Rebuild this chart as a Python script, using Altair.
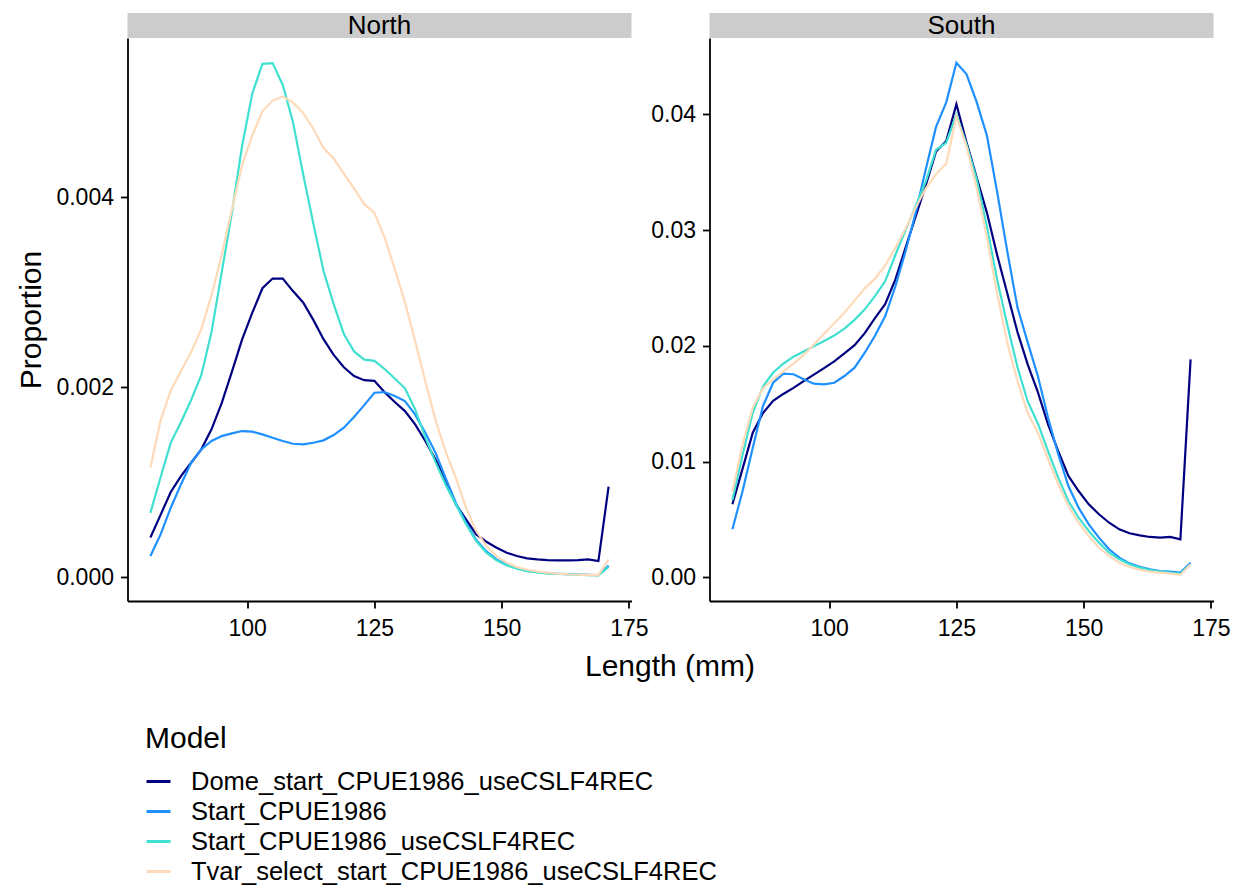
import altair as alt
import pandas as pd

# ---------------- data ----------------
lengths = list(range(81, 172, 2))  # 46 length bins (mm)

models = [
    "Dome_start_CPUE1986_useCSLF4REC",
    "Start_CPUE1986",
    "Start_CPUE1986_useCSLF4REC",
    "Tvar_select_start_CPUE1986_useCSLF4REC",
]
colors = ["#000080", "#1E90FF", "#40E0D0", "#FFDAB9"]

# North (values x 1e-3)
north_dome = [0.416, 0.655, 0.895, 1.063, 1.203, 1.344, 1.555, 1.830, 2.160, 2.500,
              2.780, 3.040, 3.142, 3.142, 3.010, 2.890, 2.707, 2.504, 2.338, 2.208,
              2.116, 2.072, 2.066, 1.945, 1.842, 1.747, 1.607, 1.432, 1.239, 1.020,
              0.765, 0.607, 0.449, 0.372, 0.309, 0.256, 0.221, 0.197, 0.186, 0.179,
              0.175, 0.175, 0.179, 0.186, 0.168, 0.951]
north_start = [0.221, 0.449, 0.730, 0.975, 1.203, 1.344, 1.432, 1.484, 1.512, 1.537,
               1.530, 1.502, 1.467, 1.432, 1.403, 1.397, 1.414, 1.439, 1.495, 1.572,
               1.684, 1.810, 1.940, 1.947, 1.905, 1.853, 1.710, 1.520, 1.310, 1.040,
               0.780, 0.570, 0.390, 0.270, 0.185, 0.130, 0.093, 0.068, 0.052, 0.042,
               0.035, 0.030, 0.026, 0.023, 0.020, 0.120]
north_start_use = [0.676, 1.050, 1.415, 1.630, 1.864, 2.125, 2.578, 3.205, 3.833, 4.535,
                   5.088, 5.402, 5.410, 5.180, 4.790, 4.239, 3.722, 3.224, 2.873, 2.559,
                   2.375, 2.289, 2.275, 2.190, 2.090, 1.987, 1.765, 1.470, 1.210, 0.970,
                   0.765, 0.555, 0.379, 0.256, 0.176, 0.123, 0.088, 0.063, 0.049, 0.039,
                   0.032, 0.028, 0.025, 0.021, 0.018, 0.108]
north_tvar = [1.154, 1.650, 1.963, 2.170, 2.368, 2.610, 2.965, 3.389, 3.869, 4.332,
              4.645, 4.903, 5.015, 5.059, 4.996, 4.885, 4.719, 4.516, 4.405, 4.246,
              4.091, 3.925, 3.833, 3.575, 3.242, 2.892, 2.485, 2.061, 1.655, 1.320,
              1.045, 0.729, 0.484, 0.326, 0.221, 0.151, 0.105, 0.077, 0.060, 0.046,
              0.035, 0.028, 0.025, 0.021, 0.021, 0.186]

# South (values x 1e-2)
south_dome = [0.633, 0.940, 1.250, 1.420, 1.526, 1.585, 1.637, 1.696, 1.752, 1.808,
              1.867, 1.935, 2.006, 2.110, 2.240, 2.360, 2.573, 2.846, 3.118, 3.391,
              3.679, 3.769, 4.088, 3.755, 3.452, 3.149, 2.785, 2.452, 2.119, 1.840,
              1.600, 1.323, 1.092, 0.877, 0.747, 0.632, 0.546, 0.473, 0.416, 0.382,
              0.364, 0.350, 0.344, 0.350, 0.330, 1.884]
south_start = [0.416, 0.747, 1.121, 1.481, 1.682, 1.760, 1.755, 1.712, 1.674, 1.668,
               1.682, 1.740, 1.812, 1.941, 2.087, 2.255, 2.513, 2.815, 3.149, 3.527,
               3.891, 4.103, 4.445, 4.345, 4.103, 3.815, 3.330, 2.815, 2.331, 2.030,
               1.740, 1.380, 1.064, 0.790, 0.603, 0.459, 0.344, 0.244, 0.171, 0.122,
               0.093, 0.070, 0.056, 0.050, 0.042, 0.128]
south_start_use = [0.670, 1.059, 1.422, 1.649, 1.770, 1.846, 1.907, 1.952, 1.997, 2.043,
                   2.089, 2.149, 2.225, 2.316, 2.430, 2.558, 2.785, 2.997, 3.209, 3.421,
                   3.694, 3.755, 3.997, 3.739, 3.437, 3.028, 2.573, 2.180, 1.816, 1.520,
                   1.330, 1.092, 0.862, 0.661, 0.516, 0.402, 0.301, 0.214, 0.157, 0.114,
                   0.085, 0.065, 0.050, 0.042, 0.033, 0.114]
south_tvar = [0.741, 1.149, 1.468, 1.635, 1.710, 1.780, 1.846, 1.922, 2.013, 2.104,
              2.195, 2.286, 2.391, 2.497, 2.580, 2.694, 2.846, 3.012, 3.194, 3.361,
              3.482, 3.573, 3.982, 3.720, 3.361, 2.937, 2.452, 2.028, 1.695, 1.420,
              1.250, 1.021, 0.805, 0.617, 0.473, 0.358, 0.257, 0.186, 0.128, 0.091,
              0.068, 0.050, 0.042, 0.033, 0.022, 0.114]

x_ticks = [100, 125, 150, 175]
north_ticks = [0.0, 0.002, 0.004]
south_ticks = [0.0, 0.01, 0.02, 0.03, 0.04]

# ---------------- table ----------------
rows = []
series = {
    "North": ([north_dome, north_start, north_start_use, north_tvar], 1e-3),
    "South": ([south_dome, south_start, south_start_use, south_tvar], 1e-2),
}
for region, (vals, mult) in series.items():
    for m, v in zip(models, vals):
        for L, p in zip(lengths, v):
            rows.append({"Region": region, "Model": m, "Length": L, "Proportion": p * mult})
df = pd.DataFrame(rows)

W, H = 504, 563
FONT = "Liberation Sans"

legend = alt.Legend(
    title="Model", orient="none", legendX=17.5, legendY=686, direction="vertical",
    titleFontSize=30, titleFontWeight="normal", titleColor="black", titlePadding=14,
    labelFontSize=25.5, labelColor="black", labelOffset=19, labelLimit=0, rowPadding=3,
    symbolType="stroke", symbolSize=576, symbolStrokeWidth=3,
)

common_axis = dict(
    labelFontSize=23, labelColor="black", tickSize=7, tickWidth=1.8, tickColor="black",
    domainColor="black", domainWidth=1.8, grid=False,
)


def panel(region, ydomain, yticks, yfmt, first):
    if first:
        xaxis = alt.Axis(values=x_ticks, labelFlush=False, labelPadding=9, title=None, **common_axis)
        yaxis = alt.Axis(values=yticks, format=yfmt, labelPadding=7, title="Proportion",
                         titleFontSize=30, titleFontWeight="normal", titleColor="black",
                         titlePadding=9.5, **common_axis)
    else:
        xaxis = alt.Axis(values=x_ticks, labelFlush=False, labelPadding=9, title="Length (mm)",
                         titleFontSize=30, titleFontWeight="normal", titleColor="black",
                         titleX=-40, titleY=65, titleBaseline="middle", titleAlign="center",
                         **common_axis)
        yaxis = alt.Axis(values=yticks, format=yfmt, labelPadding=7, title=None, **common_axis)

    d = df[df["Region"] == region]
    lines = alt.Chart(d).mark_line(strokeWidth=2.2).encode(
        x=alt.X("Length:Q", scale=alt.Scale(domain=[76.5, 175.5], nice=False, zero=False), axis=xaxis),
        y=alt.Y("Proportion:Q", scale=alt.Scale(domain=ydomain, nice=False, zero=False), axis=yaxis),
        color=alt.Color("Model:N", scale=alt.Scale(domain=models, range=colors), legend=legend),
        order=alt.Order("Length:Q"),
    )
    sdf = pd.DataFrame({"Region": [region]})
    strip = alt.Chart(sdf).mark_rect(color="#CCCCCC").encode(
        x=alt.value(0), x2=alt.value(W), y=alt.value(-25), y2=alt.value(0)
    )
    stext = alt.Chart(sdf).mark_text(fontSize=26, color="black", baseline="middle", align="center").encode(
        x=alt.value(W / 2), y=alt.value(-12.5), text="Region:N"
    )
    return alt.layer(strip, stext, lines).properties(width=W, height=H)


north = panel("North", [-0.000252, 0.005674], north_ticks, ".3f", True)
south = panel("South", [-0.00203, 0.04659], south_ticks, ".2f", False)

chart = (
    alt.hconcat(north, south, spacing=78, bounds="flush")
    .resolve_scale(y="independent", x="independent", color="shared")
    .properties(padding={"left": 7.5, "top": 4, "right": 0, "bottom": 0}, background="white")
    .configure(font=FONT)
    .configure_view(strokeWidth=0)
)

chart.save("out.html", embed_options={"renderer": "svg", "actions": False})
